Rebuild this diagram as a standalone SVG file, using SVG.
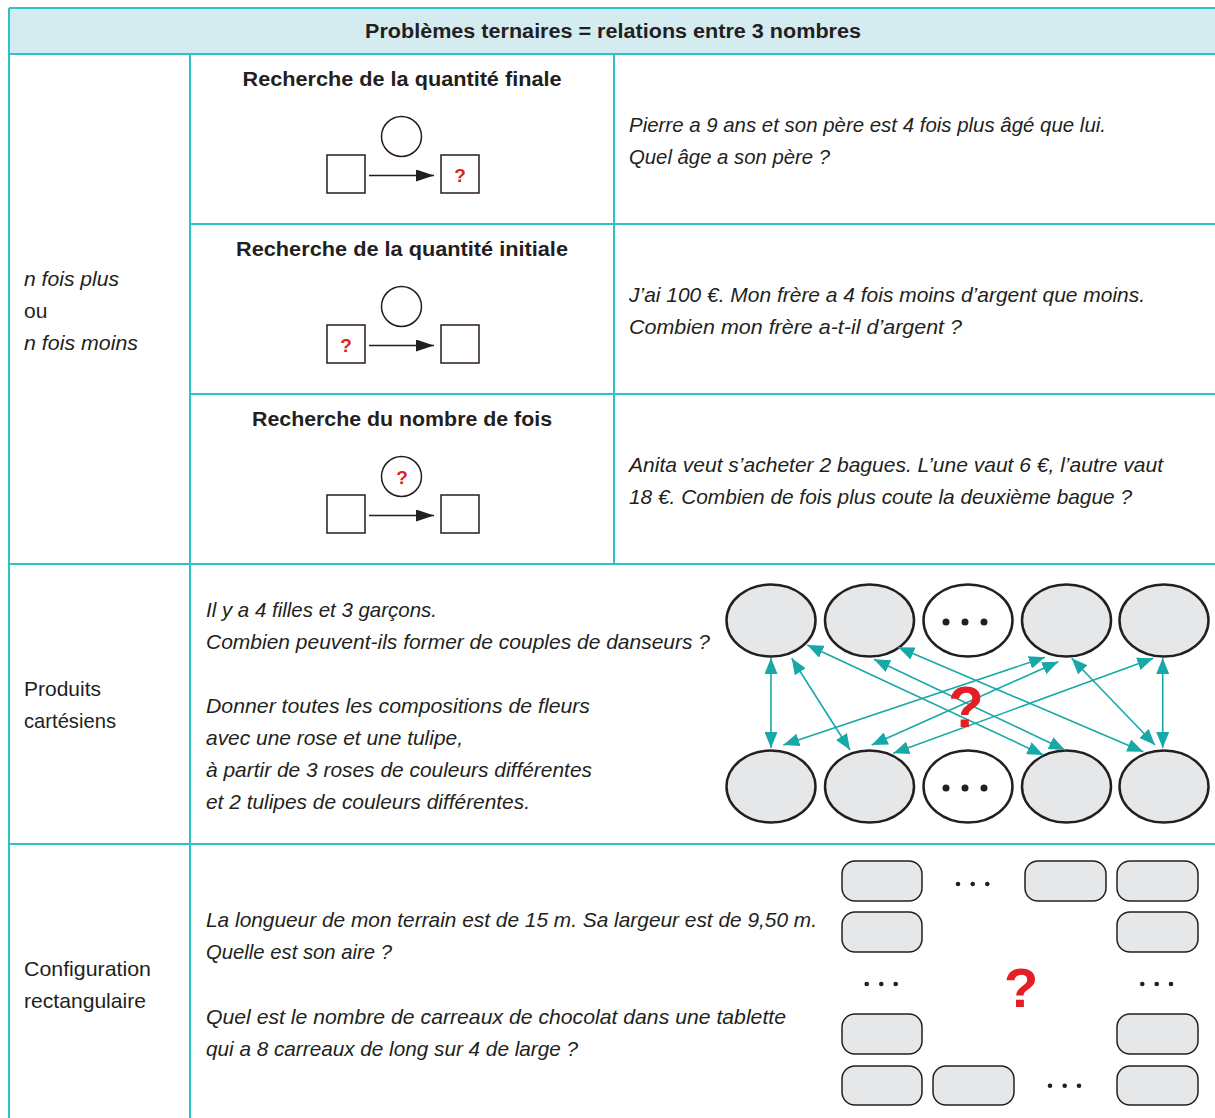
<svg xmlns="http://www.w3.org/2000/svg" width="1215" height="1118" viewBox="0 0 1215 1118">
<style>
.grid{stroke:#2cc3c8;stroke-width:2;fill:none}
.t{font-family:"Liberation Sans",Arial,sans-serif;font-size:21px;fill:#231f20}
.h{font-size:20px}
.i{font-style:italic}
.b{font-weight:bold}
.q{font-family:"Liberation Sans",Arial,sans-serif;font-weight:bold;fill:#e31e24;text-anchor:middle}
.box{fill:#fff;stroke:#2a1a1c;stroke-width:1.5}
.ell{fill:#e6e7e8;stroke:#231f20;stroke-width:2.5}
.ellw{fill:#fff;stroke:#231f20;stroke-width:2.5}
.rr{fill:#e6e7e8;stroke:#231f20;stroke-width:1.5}
.ar{stroke:#17a9a8;stroke-width:1.6;fill:none;marker-start:url(#ta);marker-end:url(#ta)}
.bar{stroke:#231f20;stroke-width:1.5;fill:none;marker-end:url(#ba)}
.dot{fill:#231f20}
</style>
<defs>
<marker id="ta" markerUnits="userSpaceOnUse" markerWidth="16" markerHeight="13" refX="16" refY="6.5" orient="auto-start-reverse"><path d="M0,0 L16,6.5 L0,13 z" fill="#17a9a8"/></marker>
<marker id="ba" markerUnits="userSpaceOnUse" markerWidth="18" markerHeight="12" refX="18" refY="6" orient="auto"><path d="M0,0 L18,6 L0,12 z" fill="#231f20"/></marker>
</defs>
<rect width="1215" height="1118" fill="#fff"/>
<g id="table">
<rect x="9" y="8" width="1210" height="46" fill="#d4ecf0"/>
<path class="grid" d="M9,8 H1215 M9,54 H1215 M9,8 V1118 M190,54 V1118 M614,54 V564 M190,224 H1215 M190,394 H1215 M9,564 H1215 M9,844 H1215"/>
<text class="t h b" x="613" y="38" text-anchor="middle" textLength="496" lengthAdjust="spacingAndGlyphs">Problèmes ternaires = relations entre 3 nombres</text>
</g>
<g id="left-labels">
<text class="t i" x="24" y="286" textLength="95" lengthAdjust="spacingAndGlyphs">n fois plus</text>
<text class="t" x="24" y="318">ou</text>
<text class="t i" x="24" y="350" textLength="114" lengthAdjust="spacingAndGlyphs">n fois moins</text>
<text class="t" x="24" y="696" textLength="77" lengthAdjust="spacingAndGlyphs">Produits</text>
<text class="t" x="24" y="728" textLength="92" lengthAdjust="spacingAndGlyphs">cartésiens</text>
<text class="t" x="24" y="976" textLength="127" lengthAdjust="spacingAndGlyphs">Configuration</text>
<text class="t" x="24" y="1008" textLength="122" lengthAdjust="spacingAndGlyphs">rectangulaire</text>
</g>
<g id="row-finale">
<text class="t h b" x="402" y="86" text-anchor="middle" textLength="319" lengthAdjust="spacingAndGlyphs">Recherche de la quantité finale</text>
<circle class="box" cx="401.5" cy="136.5" r="20"/>
<rect class="box" x="327" y="155" width="38" height="38"/>
<rect class="box" x="441" y="155" width="38" height="38"/>
<text class="q" x="460" y="182" font-size="19">?</text>
<text class="t i" x="629" y="132" textLength="477" lengthAdjust="spacingAndGlyphs">Pierre a 9 ans et son père est 4 fois plus âgé que lui.</text>
<text class="t i" x="629" y="164" textLength="201" lengthAdjust="spacingAndGlyphs">Quel âge a son père ?</text>
</g>
<g id="row-initiale">
<text class="t h b" x="402" y="256" text-anchor="middle" textLength="332" lengthAdjust="spacingAndGlyphs">Recherche de la quantité initiale</text>
<circle class="box" cx="401.5" cy="306.5" r="20"/>
<rect class="box" x="327" y="325" width="38" height="38"/>
<rect class="box" x="441" y="325" width="38" height="38"/>
<text class="q" x="346" y="352" font-size="19">?</text>
<text class="t i" x="629" y="302" textLength="516" lengthAdjust="spacingAndGlyphs">J’ai 100 €. Mon frère a 4 fois moins d’argent que moins.</text>
<text class="t i" x="629" y="334" textLength="333" lengthAdjust="spacingAndGlyphs">Combien mon frère a-t-il d’argent ?</text>
</g>
<g id="row-fois">
<text class="t h b" x="402" y="426" text-anchor="middle" textLength="300" lengthAdjust="spacingAndGlyphs">Recherche du nombre de fois</text>
<circle class="box" cx="401.5" cy="476.5" r="20"/>
<text class="q" x="402" y="484" font-size="19">?</text>
<rect class="box" x="327" y="495" width="38" height="38"/>
<rect class="box" x="441" y="495" width="38" height="38"/>
<text class="t i" x="629" y="472" textLength="534" lengthAdjust="spacingAndGlyphs">Anita veut s’acheter 2 bagues. L’une vaut 6 €, l’autre vaut</text>
<text class="t i" x="629" y="504" textLength="503" lengthAdjust="spacingAndGlyphs">18 €. Combien de fois plus coute la deuxième bague ?</text>
</g>
<g id="small-arrows">
<line class="bar" x1="369" y1="175.5" x2="434" y2="175.5"/>
<line class="bar" x1="369" y1="345.5" x2="434" y2="345.5"/>
<line class="bar" x1="369" y1="515.5" x2="434" y2="515.5"/>
</g>
<g id="cartesian-text">
<text class="t i" x="206" y="617" textLength="231" lengthAdjust="spacingAndGlyphs">Il y a 4 filles et 3 garçons.</text>
<text class="t i" x="206" y="649" textLength="504" lengthAdjust="spacingAndGlyphs">Combien peuvent-ils former de couples de danseurs ?</text>
<text class="t i" x="206" y="713" textLength="384" lengthAdjust="spacingAndGlyphs">Donner toutes les compositions de fleurs</text>
<text class="t i" x="206" y="745" textLength="257" lengthAdjust="spacingAndGlyphs">avec une rose et une tulipe,</text>
<text class="t i" x="206" y="777" textLength="386" lengthAdjust="spacingAndGlyphs">à partir de 3 roses de couleurs différentes</text>
<text class="t i" x="206" y="809" textLength="324" lengthAdjust="spacingAndGlyphs">et 2 tulipes de couleurs différentes.</text>
</g>
<g id="ellipses-top">
<ellipse class="ell" cx="771" cy="620.5" rx="44.5" ry="36"/>
<ellipse class="ell" cx="869.5" cy="620.5" rx="44.5" ry="36"/>
<ellipse class="ellw" cx="968" cy="620.5" rx="44.5" ry="36"/>
<circle class="dot" cx="946" cy="622" r="3.5"/><circle class="dot" cx="965" cy="622" r="3.5"/><circle class="dot" cx="984" cy="622" r="3.5"/>
<ellipse class="ell" cx="1066.5" cy="620.5" rx="44.5" ry="36"/>
<ellipse class="ell" cx="1164" cy="620.5" rx="44.5" ry="36"/>
</g>
<g id="ellipses-bottom">
<ellipse class="ell" cx="771" cy="786.5" rx="44.5" ry="36"/>
<ellipse class="ell" cx="869.5" cy="786.5" rx="44.5" ry="36"/>
<ellipse class="ellw" cx="968" cy="786.5" rx="44.5" ry="36"/>
<circle class="dot" cx="946" cy="788" r="3.5"/><circle class="dot" cx="965" cy="788" r="3.5"/><circle class="dot" cx="984" cy="788" r="3.5"/>
<ellipse class="ell" cx="1066.5" cy="786.5" rx="44.5" ry="36"/>
<ellipse class="ell" cx="1164" cy="786.5" rx="44.5" ry="36"/>
</g>
<g id="connectors">
<line class="ar" x1="771" y1="658" x2="771" y2="748"/>
<line class="ar" x1="791.7" y1="658.3" x2="850" y2="750"/>
<line class="ar" x1="807.3" y1="645" x2="1043.3" y2="755"/>
<line class="ar" x1="874" y1="659.3" x2="1065" y2="750"/>
<line class="ar" x1="898.3" y1="647.3" x2="1143.3" y2="751.7"/>
<line class="ar" x1="1045" y1="657.3" x2="783.3" y2="745"/>
<line class="ar" x1="1058.3" y1="661.7" x2="871.7" y2="745"/>
<line class="ar" x1="1153.3" y1="658.3" x2="893.3" y2="753.3"/>
<line class="ar" x1="1071.7" y1="658.3" x2="1155" y2="745"/>
<line class="ar" x1="1162.7" y1="658" x2="1162.7" y2="748"/>
</g>
<text class="q" x="966" y="727" font-size="58">?</text>
<g id="rect-text">
<text class="t i" x="206" y="927" textLength="611" lengthAdjust="spacingAndGlyphs">La longueur de mon terrain est de 15 m. Sa largeur est de 9,50 m.</text>
<text class="t i" x="206" y="959" textLength="186" lengthAdjust="spacingAndGlyphs">Quelle est son aire ?</text>
<text class="t i" x="206" y="1024" textLength="580" lengthAdjust="spacingAndGlyphs">Quel est le nombre de carreaux de chocolat dans une tablette</text>
<text class="t i" x="206" y="1056" textLength="372" lengthAdjust="spacingAndGlyphs">qui a 8 carreaux de long sur 4 de large ?</text>
</g>
<g id="grid-cells">
<rect class="rr" x="842" y="861" width="80" height="40" rx="13"/>
<rect class="rr" x="1025" y="861" width="81" height="40" rx="13"/>
<rect class="rr" x="1117" y="861" width="81" height="40" rx="13"/>
<rect class="rr" x="842" y="912" width="80" height="40" rx="13"/>
<rect class="rr" x="1117" y="912" width="81" height="40" rx="13"/>
<rect class="rr" x="842" y="1014" width="80" height="40" rx="13"/>
<rect class="rr" x="1117" y="1014" width="81" height="40" rx="13"/>
<rect class="rr" x="842" y="1066" width="80" height="39" rx="13"/>
<rect class="rr" x="933" y="1066" width="81" height="39" rx="13"/>
<rect class="rr" x="1117" y="1066" width="81" height="39" rx="13"/>
<circle class="dot" cx="958" cy="884" r="2.3"/><circle class="dot" cx="972.7" cy="884" r="2.3"/><circle class="dot" cx="987.3" cy="884" r="2.3"/>
<circle class="dot" cx="866.7" cy="984" r="2.3"/><circle class="dot" cx="881.3" cy="984" r="2.3"/><circle class="dot" cx="895.7" cy="984" r="2.3"/>
<circle class="dot" cx="1142.3" cy="984" r="2.3"/><circle class="dot" cx="1156.7" cy="984" r="2.3"/><circle class="dot" cx="1171" cy="984" r="2.3"/>
<circle class="dot" cx="1050" cy="1085.7" r="2.3"/><circle class="dot" cx="1064.7" cy="1085.7" r="2.3"/><circle class="dot" cx="1079" cy="1085.7" r="2.3"/>
<text class="q" x="1021" y="1007" font-size="56">?</text>
</g>
</svg>
